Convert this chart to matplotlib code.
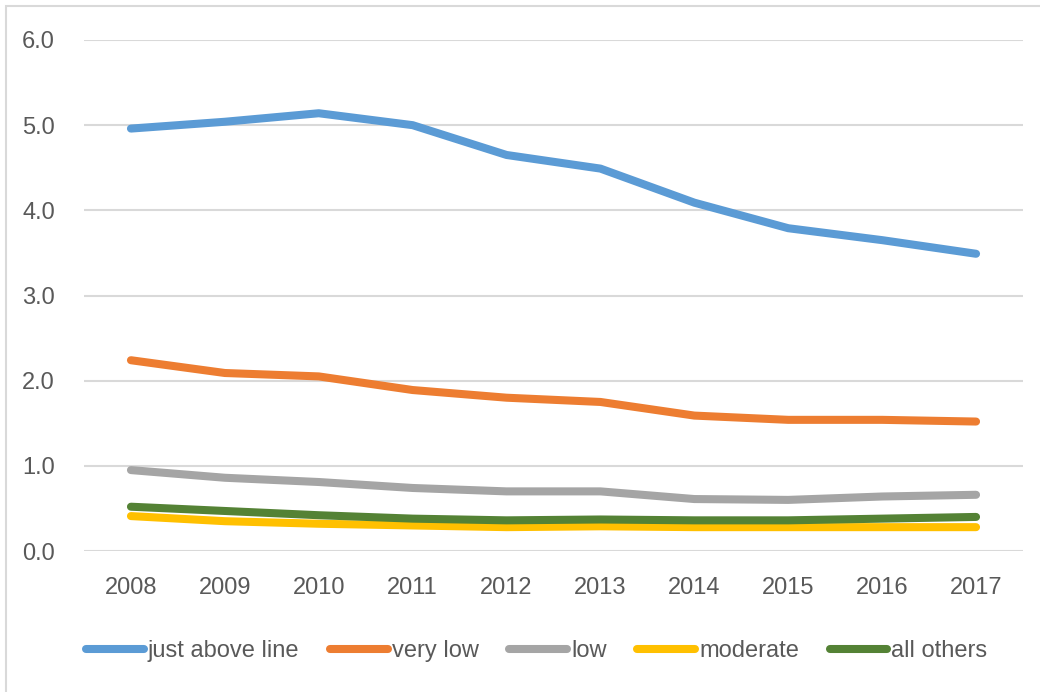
import matplotlib.pyplot as plt
from matplotlib.patches import Rectangle

years = ['2008', '2009', '2010', '2011', '2012', '2013', '2014', '2015', '2016', '2017']
just_above = [4.96, 5.04, 5.14, 5.00, 4.65, 4.49, 4.09, 3.79, 3.65, 3.49]
very_low = [2.24, 2.09, 2.05, 1.89, 1.80, 1.75, 1.59, 1.54, 1.54, 1.52]
low = [0.95, 0.86, 0.81, 0.74, 0.70, 0.70, 0.61, 0.60, 0.64, 0.66]
moderate = [0.41, 0.35, 0.32, 0.30, 0.28, 0.29, 0.28, 0.28, 0.28, 0.28]
all_others = [0.52, 0.47, 0.42, 0.38, 0.36, 0.37, 0.36, 0.36, 0.38, 0.40]

names = ['just above line', 'very low', 'low', 'moderate', 'all others']
colors = ['#5B9BD5', '#ED7D31', '#A5A5A5', '#FFC000', '#548235']

plt.rcParams['font.family'] = ['Liberation Sans', 'DejaVu Sans']

fig = plt.figure(figsize=(10.4, 6.92), dpi=100)
ax = fig.add_axes([84 / 1040, 1 - 551 / 692, 939 / 1040, 511 / 692])

x = list(range(len(years)))
for vals, name, c in zip([just_above, very_low, low, moderate, all_others], names, colors):
    ax.plot(x, vals, color=c, lw=5.8, label=name, solid_capstyle='round', solid_joinstyle='round')

ax.set_xlim(-0.5, 9.5)
ax.set_ylim(0, 6)
ax.set_yticks([0, 1, 2, 3, 4, 5, 6])
ax.set_yticklabels([f'{v:.1f}' for v in range(7)])
ax.set_xticks(x)
ax.set_xticklabels(years)
ax.grid(axis='y', color='#D9D9D9', lw=1.5)
ax.set_axisbelow(True)
for s in ax.spines.values():
    s.set_visible(False)
ax.tick_params(length=0, labelsize=17, colors='#595959')
ax.tick_params(axis='x', pad=19)
ax.tick_params(axis='y', pad=21)

leg = fig.legend(loc='center', bbox_to_anchor=(0.516, 1 - 651 / 692), ncol=5, frameon=False,
                 fontsize=17, handlelength=2.45, handletextpad=0.17, columnspacing=1.3)
for t in leg.get_texts():
    t.set_color('#595959')

fig.patches.append(Rectangle((6 / 1040, -0.01), 1.0, 1 - 6 / 692 + 0.01, transform=fig.transFigure,
                             fill=False, edgecolor='#D9D9D9', lw=1.5))

fig.savefig('out.png', dpi=100)
